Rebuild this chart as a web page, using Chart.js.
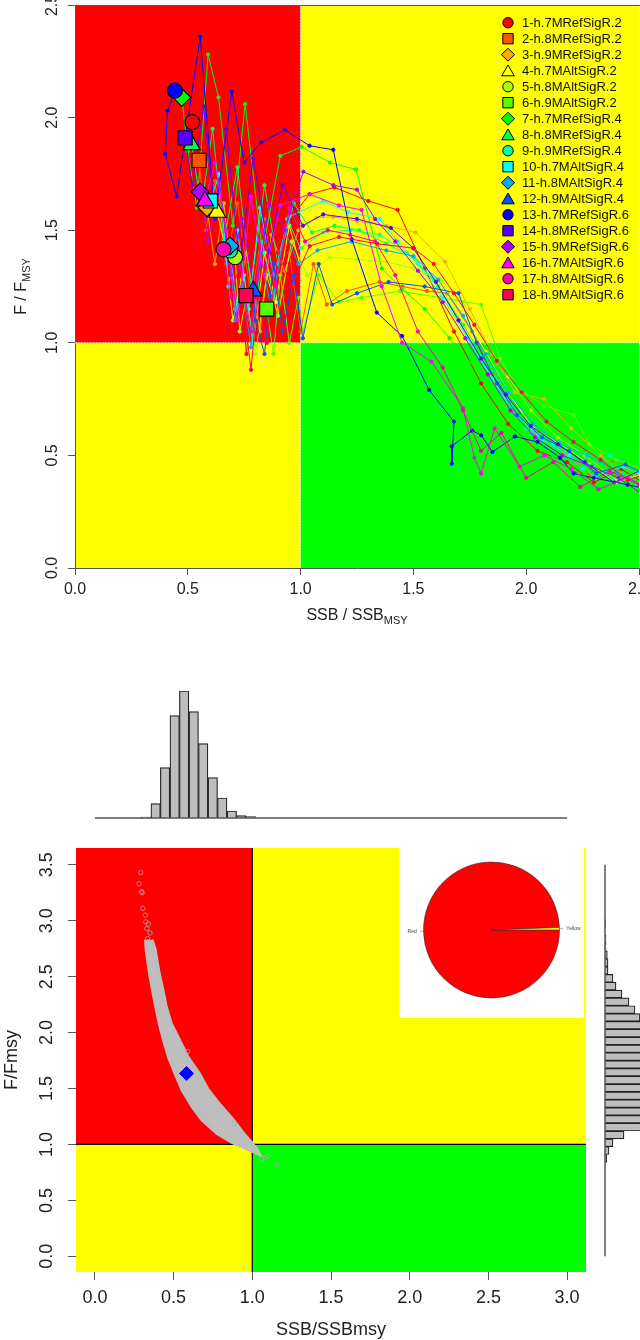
<!DOCTYPE html>
<html><head><meta charset="utf-8">
<script src="https://cdn.jsdelivr.net/npm/chart.js@4.4.1/dist/chart.umd.min.js"></script>
<style>
html,body{margin:0;padding:0;background:#fff;width:640px;height:1340px;overflow:hidden;}
.box{position:absolute;}
canvas{display:block;}
</style></head><body>
<div class="box" style="left:0;top:0;width:640px;height:640px"><canvas id="kobe" width="640" height="640"></canvas></div>
<div class="box" style="left:0;top:670px;width:640px;height:160px"><canvas id="histSSB" width="640" height="160"></canvas></div>
<div class="box" style="left:0;top:840px;width:640px;height:500px"><canvas id="scatter" width="640" height="500"></canvas></div>
<div class="box" style="left:590px;top:840px;width:50px;height:500px"><canvas id="histF" width="50" height="500"></canvas></div>
<div class="box" style="left:399px;top:848px;width:185px;height:170px;background:#fff"><canvas id="pie" width="185" height="170"></canvas></div>
<script>
// ---------------- DATA ----------------
const seriesNames = ['1-h.7MRefSigR.2','2-h.8MRefSigR.2','3-h.9MRefSigR.2','4-h.7MAltSigR.2','5-h.8MAltSigR.2','6-h.9MAltSigR.2',
  '7-h.7MRefSigR.4','8-h.8MRefSigR.4','9-h.9MRefSigR.4','10-h.7MAltSigR.4','11-h.8MAltSigR.4','12-h.9MAltSigR.4',
  '13-h.7MRefSigR.6','14-h.8MRefSigR.6','15-h.9MRefSigR.6','16-h.7MAltSigR.6','17-h.8MAltSigR.6','18-h.9MAltSigR.6'];

const ssb01 = [2.70,2.55,2.42,2.30,2.18,2.05,1.92,1.80,1.68,1.55,1.43,1.30,1.15,1.04,0.93,0.86,0.80,0.76,0.70,0.66,0.62,0.58,0.52];
const f01   = [0.40,0.36,0.44,0.38,0.47,0.52,0.64,0.82,1.05,1.33,1.59,1.63,1.69,1.66,1.52,1.21,1.45,0.95,1.62,1.30,1.88,1.55,1.98];
const ssb02 = [2.66,2.52,2.40,2.28,2.16,2.04,1.94,1.85,1.76,1.65,1.56,1.45,1.35,1.205,1.116,1.057,1.00,0.95,0.90,0.84,0.78,0.72,0.67,0.62,0.58,0.55];
const f02   = [0.45,0.40,0.48,0.42,0.52,0.60,0.70,0.86,1.05,1.22,1.23,1.25,1.27,1.23,1.17,1.35,1.05,1.40,1.15,1.55,1.20,1.62,1.35,1.72,1.50,1.81];
const ssb03 = [2.70,2.55,2.45,2.33,2.20,2.08,1.95,1.85,1.75,1.64,1.51,1.38,1.25,1.145,1.07,0.99,0.93,0.87,0.82,0.76,0.71,0.66,0.62,0.585];
const f03   = [0.42,0.47,0.40,0.50,0.62,0.75,0.78,0.95,1.15,1.36,1.49,1.52,1.54,1.56,1.555,1.50,1.32,1.48,1.05,1.40,1.15,1.62,1.35,1.60];
const ssb04 = [2.68,2.52,2.40,2.28,2.15,2.03,1.92,1.82,1.72,1.60,1.48,1.35,1.22,1.10,1.01,0.95,0.89,0.84,0.79,0.74,0.70,0.66,0.63];
const f04   = [0.36,0.42,0.38,0.46,0.55,0.62,0.78,0.96,1.12,1.30,1.40,1.45,1.47,1.43,1.30,1.52,1.18,1.40,1.00,1.28,1.10,1.45,1.58];
const ssb05 = [2.66,2.52,2.40,2.26,2.14,2.02,1.92,1.82,1.72,1.62,1.50,1.38,1.25,1.13,1.03,0.96,0.90,0.85,0.80,0.76,0.73,0.71];
const f05   = [0.38,0.44,0.39,0.50,0.58,0.70,0.85,1.00,1.18,1.28,1.33,1.36,1.37,1.38,1.30,1.45,1.12,1.30,0.95,1.20,1.05,1.38];
const ssb06 = [2.70,2.55,2.40,2.28,2.21,2.08,1.96,1.885,1.80,1.62,1.44,1.27,1.17,1.08,1.01,0.99,0.95,0.91,0.88,0.85];
const f06   = [0.35,0.43,0.48,0.55,0.68,0.72,0.80,0.93,1.17,1.20,1.23,1.20,1.18,1.30,1.05,1.20,1.00,1.30,0.95,1.15];
const ssb07 = [2.62,2.48,2.36,2.24,2.12,2.00,1.90,1.78,1.66,1.55,1.45,1.36,1.246,1.13,1.005,0.91,0.83,0.754,0.70,0.636,0.59,0.54,0.50,0.473];
const f07   = [0.44,0.38,0.46,0.41,0.50,0.58,0.70,0.88,1.02,1.15,1.24,1.33,1.77,1.80,1.87,1.83,1.40,2.06,1.52,2.09,2.28,1.60,1.85,2.09];
const ssb08 = [2.68,2.54,2.42,2.30,2.17,2.05,1.94,1.83,1.72,1.61,1.50,1.38,1.26,1.15,1.05,0.97,0.90,0.84,0.78,0.72,0.66,0.61,0.56,0.517];
const f08   = [0.40,0.46,0.37,0.45,0.52,0.60,0.73,0.90,1.08,1.25,1.38,1.44,1.50,1.52,1.49,1.62,1.35,1.70,1.25,1.78,1.45,1.95,1.60,1.88];
const ssb09 = [2.64,2.50,2.37,2.25,2.12,2.00,1.90,1.80,1.70,1.59,1.47,1.35,1.22,1.10,1.00,0.94,0.88,0.83,0.79,0.75,0.72,0.687];
const f09   = [0.37,0.43,0.50,0.44,0.55,0.62,0.76,0.92,1.10,1.28,1.40,1.48,1.50,1.49,1.42,1.55,1.20,1.45,1.00,1.30,1.15,1.41];
const ssb10 = [2.70,2.56,2.43,2.31,2.19,2.07,1.96,1.85,1.74,1.63,1.52,1.43,1.35,1.21,1.10,0.95,0.88,0.82,0.77,0.72,0.68,0.64,0.60];
const f10   = [0.33,0.39,0.45,0.40,0.50,0.57,0.68,0.84,1.02,1.20,1.35,1.45,1.55,1.58,1.63,1.56,1.30,1.60,1.15,1.50,1.25,1.75,1.63];
const ssb11 = [2.66,2.52,2.40,2.27,2.15,2.03,1.92,1.82,1.72,1.61,1.50,1.38,1.227,1.075,0.99,0.93,0.87,0.82,0.78,0.74,0.71,0.687];
const f11   = [0.41,0.36,0.43,0.50,0.55,0.64,0.78,0.95,1.12,1.28,1.385,1.41,1.45,1.41,1.35,1.50,1.15,1.40,0.98,1.25,1.10,1.43];
const ssb12 = [2.70,2.56,2.44,2.31,2.19,2.07,1.96,1.87,1.78,1.70,1.55,1.39,1.25,1.14,1.08,1.01,0.97,0.92,0.88,0.84,0.80,0.79];
const f12   = [0.34,0.40,0.46,0.42,0.52,0.58,0.68,0.82,1.00,1.22,1.25,1.27,1.22,1.17,1.35,1.02,1.30,1.05,1.35,0.95,1.10,1.23];
const ssb13 = [2.62,2.45,2.30,2.21,2.15,2.05,1.95,1.85,1.80,1.76,1.67,1.67,1.68,1.57,1.45,1.338,1.227,1.145,1.04,0.93,0.825,0.75,0.695,0.62,0.555,0.45,0.40,0.41,0.443];
const f13   = [0.33,0.37,0.40,0.42,0.49,0.56,0.584,0.515,0.59,0.61,0.54,0.463,0.65,0.79,1.03,1.134,1.46,1.857,1.875,1.945,1.89,1.80,2.115,1.55,2.36,1.65,1.84,2.03,2.12];
const ssb14 = [2.66,2.52,2.39,2.26,2.14,2.02,1.91,1.80,1.70,1.60,1.50,1.40,1.25,1.10,1.01,0.92,0.86,0.79,0.73,0.67,0.62,0.57,0.52,0.488];
const f14   = [0.38,0.44,0.38,0.47,0.55,0.63,0.77,0.93,1.10,1.27,1.42,1.51,1.55,1.57,1.52,1.70,1.40,1.82,1.35,1.95,1.55,2.05,1.70,1.91];
const ssb15 = [2.68,2.54,2.41,2.29,2.16,2.04,1.93,1.83,1.73,1.63,1.52,1.42,1.33,1.25,1.145,1.012,0.93,0.86,0.80,0.74,0.69,0.64,0.59,0.554];
const f15   = [0.36,0.31,0.40,0.45,0.50,0.58,0.70,0.86,1.02,1.18,1.32,1.45,1.55,1.68,1.70,1.76,1.50,1.62,1.20,1.55,1.30,1.72,1.45,1.67];
const ssb16 = [2.60,2.45,2.32,2.20,2.08,1.97,1.86,1.80,1.77,1.72,1.58,1.45,1.36,1.27,1.17,1.04,0.91,0.84,0.78,0.72,0.67,0.62,0.576];
const f16   = [0.33,0.40,0.35,0.44,0.50,0.45,0.62,0.42,0.49,0.71,0.917,1.00,1.25,1.59,1.61,1.66,1.61,1.30,1.65,1.10,1.50,1.80,1.63];
const ssb17 = [2.64,2.50,2.37,2.24,2.12,2.00,1.89,1.80,1.72,1.63,1.52,1.42,1.33,1.22,1.12,1.02,0.95,0.89,0.83,0.78,0.73,0.69,0.658];
const f17   = [0.30,0.37,0.43,0.36,0.47,0.40,0.60,0.52,0.70,0.89,1.05,1.30,1.45,1.48,1.50,1.45,1.60,1.25,1.50,1.05,1.35,1.20,1.415];
const ssb18 = [2.70,2.57,2.45,2.33,2.21,2.09,1.98,1.87,1.77,1.68,1.59,1.50,1.34,1.17,1.04,0.96,0.90,0.85,0.81,0.78,0.76,0.758];
const f18   = [0.37,0.43,0.39,0.48,0.56,0.65,0.78,0.92,1.08,1.22,1.35,1.42,1.44,1.47,1.43,1.25,1.40,1.00,1.20,0.88,1.05,1.21];

const ssbTraj = [ssb01,ssb02,ssb03,ssb04,ssb05,ssb06,ssb07,ssb08,ssb09,ssb10,ssb11,ssb12,ssb13,ssb14,ssb15,ssb16,ssb17,ssb18];
const fTraj   = [f01,f02,f03,f04,f05,f06,f07,f08,f09,f10,f11,f12,f13,f14,f15,f16,f17,f18];

// marginal histogram of SSB/SSBmsy (bin mid-points, counts)
const ssbBinMid = [0.325,0.386,0.446,0.507,0.567,0.628,0.688,0.749,0.809,0.870,0.930,0.991];
const ssbCounts = [3,43,151,307,381,319,223,121,60,21,7,4];
// marginal histogram of F/Fmsy
const fBinMid = [0.875,0.945,1.015,1.085,1.155,1.225,1.295,1.365,1.435,1.505,1.575,1.645,1.715,1.785,1.855,1.925,1.995,2.065,2.135,2.205,2.275,2.345,2.415,2.485,2.555,2.625,2.695,2.765,2.835,2.905,2.975];
const fCounts = [5,12,24,57,120,150,180,200,215,225,230,225,215,200,180,160,140,120,105,90,72,51,33,24,9,9,7,3,3,0,2];

// outline of the dense cloud of bootstrap points (left edge downwards, then right edge upwards)
const bandSSB = [0.325,0.329,0.35,0.369,0.39,0.412,0.44,0.471,0.514,0.556,0.62,0.684,0.78,0.875,0.96,1.04,1.02,0.99,0.94,0.875,0.80,0.716,0.662,0.588,0.535,0.482,0.45,0.429,0.405,0.38,0.36];
const bandF   = [2.83,2.74,2.53,2.38,2.23,2.08,1.93,1.78,1.63,1.49,1.34,1.22,1.10,1.02,0.97,0.92,0.97,1.02,1.10,1.22,1.34,1.49,1.63,1.78,1.93,2.08,2.23,2.38,2.53,2.74,2.83];
// scattered single points outside the dense cloud
const outSSB = [0.291,0.28,0.297,0.30,0.305,0.32,0.323,0.33,0.35,0.335,0.34,0.885,1.06,1.10,1.155,1.08,0.588];
const outF   = [3.43,3.33,3.26,3.25,3.11,3.05,2.99,2.93,2.89,2.84,2.97,1.19,0.87,0.90,0.82,0.88,1.83];
// current status
const curSSB = [0.582];
const curF = [1.635];

// pie of stock status
const zoneLabels = ['Red','Yellow'];
const zoneShares = [99.4,0.6];

// ---------------- STYLE ----------------
const seriesColors = ['#FF0000','#FF5500','#FFAA00','#FFFF00','#AAFF00','#55FF00','#00FF00','#00FF55','#00FFAA',
  '#00FFFF','#00AAFF','#0055FF','#0000FF','#5500FF','#AA00FF','#FF00FF','#FF00AA','#FF0055'];
const shapeCycle = ['circle','rect','rectRot','triangle'];
const markerR = {circle:7.5, rect:10, rectRot:9, triangle:10};
const legendR = {circle:5.2, rect:7.3, rectRot:6.5, triangle:7.2};
const RED='#FF0000', YEL='#FFFF00', GRN='#00FF00';
const FONT = "'Liberation Sans', Arial, Helvetica, sans-serif";
Chart.defaults.font.family = FONT;
Chart.defaults.color = '#222';

function baseOpts(padding){
  return {responsive:false, animation:false, events:[], devicePixelRatio:1,
    layout:{autoPadding:false, padding}, plugins:{legend:{display:false}, tooltip:{enabled:false}}};
}
function drawShape(ctx, style, x, y, r, fill){
  ctx.beginPath();
  if (style==='circle') ctx.arc(x,y,r,0,Math.PI*2);
  else if (style==='rect'){ const s=r*Math.SQRT1_2; ctx.rect(x-s,y-s,2*s,2*s); }
  else if (style==='rectRot'){ ctx.moveTo(x-r,y); ctx.lineTo(x,y-r); ctx.lineTo(x+r,y); ctx.lineTo(x,y+r); ctx.closePath(); }
  else { const a=2*Math.PI/3; ctx.moveTo(x,y-r); ctx.lineTo(x+r*Math.sin(a), y-r*Math.cos(a)); ctx.lineTo(x+r*Math.sin(2*a), y-r*Math.cos(2*a)); ctx.closePath(); }
  ctx.fillStyle=fill; ctx.fill(); ctx.stroke();
}
function fillZones(chart){
  const {ctx, chartArea:a, scales:{x,y}} = chart;
  const x1=x.getPixelForValue(1), y1=y.getPixelForValue(1);
  ctx.save();
  ctx.fillStyle=RED; ctx.fillRect(a.left,a.top,x1-a.left,y1-a.top);
  ctx.fillStyle=YEL; ctx.fillRect(x1,a.top,a.right-x1,y1-a.top); ctx.fillRect(a.left,y1,x1-a.left,a.bottom-y1);
  ctx.fillStyle=GRN; ctx.fillRect(x1,y1,a.right-x1,a.bottom-y1);
  ctx.restore();
}
function rotatedYLabels(chart, cx, size){
  const {ctx, scales:{y}} = chart;
  ctx.save(); ctx.font = size+'px '+FONT; ctx.fillStyle='#222'; ctx.textAlign='center'; ctx.textBaseline='middle';
  y.ticks.forEach(t=>{ const py=y.getPixelForValue(t.value); ctx.save(); ctx.translate(cx,py); ctx.rotate(-Math.PI/2); ctx.fillText(t.value.toFixed(1),0,0); ctx.restore(); });
  ctx.restore();
}
function noSidePad(s){ s.paddingLeft=0; s.paddingRight=0; s.paddingTop=0; s.paddingBottom=0; }

// ---------------- TOP: Kobe trajectories ----------------
const kobeSets = [];
ssbTraj.forEach((xs,i)=>{
  const c=seriesColors[i];
  kobeSets.push({data: xs.map((x,j)=>({x, y:fTraj[i][j]})), showLine:true, borderColor:c, borderWidth:1,
    pointRadius:1.7, pointBorderWidth:0.8, pointBorderColor:c, pointBackgroundColor:c, backgroundColor:c, order:100-i});
});
ssbTraj.forEach((xs,i)=>{
  const n=xs.length-1, st=shapeCycle[i%4];
  kobeSets.push({data:[{x:xs[n], y:fTraj[i][n]}], showLine:false, pointStyle:st, pointRadius:markerR[st],
    pointBackgroundColor:seriesColors[i], pointBorderColor:'#000', pointBorderWidth:1.1, order:-1-i});
});
new Chart(document.getElementById('kobe'), {
  type:'scatter', data:{datasets:kobeSets},
  options: Object.assign(baseOpts({top:5,right:1,left:0,bottom:0}), {
    scales:{
      x:{type:'linear', min:0, max:2.5,
        ticks:{stepSize:0.5, includeBounds:false, autoSkip:false, maxRotation:0, font:{size:16}, padding:5, color:'#222', callback:v=>Number(v).toFixed(1)},
        grid:{display:true, drawOnChartArea:false, drawTicks:true, tickLength:7, color:'#555'},
        border:{display:true, color:'#555'}, afterFit:s=>{s.height=72; noSidePad(s);}},
      y:{type:'linear', min:0, max:2.5, ticks:{display:false, stepSize:0.5, includeBounds:false},
        grid:{display:true, drawOnChartArea:false, drawTicks:true, tickLength:7, color:'#555'},
        border:{display:true, color:'#555'}, afterFit:s=>{s.width=75; noSidePad(s);}}
    }}),
  plugins:[{id:'kobeDeco',
    beforeDraw(chart){ fillZones(chart); },
    beforeDatasetsDraw(chart){
      const {ctx, chartArea:a, scales:{x,y}} = chart;
      const x1=x.getPixelForValue(1), y1=y.getPixelForValue(1);
      ctx.save(); ctx.strokeStyle='#E6E6E6'; ctx.lineWidth=1; ctx.setLineDash([1.5,1.5]);
      ctx.beginPath(); ctx.moveTo(x1,a.top); ctx.lineTo(x1,a.bottom); ctx.moveTo(a.left,y1); ctx.lineTo(a.right,y1); ctx.stroke();
      ctx.setLineDash([]); ctx.strokeStyle='#555'; ctx.beginPath(); ctx.moveTo(a.left,a.top+0.5); ctx.lineTo(a.right+2,a.top+0.5); ctx.stroke();
      ctx.restore();
    },
    afterDraw(chart){
      const {ctx, chartArea:a} = chart;
      rotatedYLabels(chart, 53, 16);
      // legend
      ctx.save(); ctx.lineWidth=1; ctx.strokeStyle='#000';
      seriesNames.forEach((nm,i)=>{
        const yy=22.7+i*16.0, st=shapeCycle[i%4];
        drawShape(ctx, st, 508, yy + (st==='triangle'?1.5:0), legendR[st], seriesColors[i]);
        ctx.fillStyle='#111'; ctx.font='13px '+FONT; ctx.textAlign='left'; ctx.textBaseline='middle';
        ctx.fillText(nm, 522, yy+0.5);
      });
      // axis titles
      const cx=(a.left+a.right)/2;
      ctx.fillStyle='#222'; ctx.textBaseline='alphabetic'; ctx.textAlign='left';
      const mainF='16px '+FONT, subF='11px '+FONT;
      ctx.font=mainF; const w1=ctx.measureText('SSB / SSB').width; ctx.font=subF; const w2=ctx.measureText('MSY').width;
      let sx=cx-(w1+w2)/2;
      ctx.font=mainF; ctx.fillText('SSB / SSB', sx, 620); ctx.font=subF; ctx.fillText('MSY', sx+w1, 624);
      ctx.save(); ctx.translate(26,(a.top+a.bottom)/2); ctx.rotate(-Math.PI/2);
      ctx.font=mainF; const v1=ctx.measureText('F / F').width; ctx.font=subF; const v2=ctx.measureText('MSY').width;
      ctx.font=mainF; ctx.fillText('F / F', -(v1+v2)/2, 0); ctx.font=subF; ctx.fillText('MSY', -(v1+v2)/2+v1, 4);
      ctx.restore();
      ctx.restore();
    }}]
});

// ---------------- SSB marginal histogram ----------------
new Chart(document.getElementById('histSSB'), {
  type:'bar',
  data:{datasets:[{data: ssbBinMid.map((x,i)=>({x, y:ssbCounts[i]})), backgroundColor:'#BEBEBE', borderColor:'#222', borderWidth:1.2,
    barPercentage:1, categoryPercentage:1}]},
  options: Object.assign(baseOpts({top:21,bottom:12,left:76,right:54}), {
    scales:{ x:{type:'linear', min:-0.12, max:3.12, offset:false, display:false},
             y:{type:'linear', min:0, max:381, display:false} }}),
  plugins:[{id:'base', afterDraw(chart){
    const {ctx, scales:{x,y}} = chart; const py=y.getPixelForValue(0);
    ctx.save(); ctx.strokeStyle='#555'; ctx.lineWidth=1.5; ctx.beginPath();
    ctx.moveTo(x.getPixelForValue(0),py); ctx.lineTo(x.getPixelForValue(3),py); ctx.stroke(); ctx.restore();
  }}]
});

// ---------------- Bottom scatter ----------------
new Chart(document.getElementById('scatter'), {
  type:'scatter',
  data:{datasets:[
    {data: bandSSB.map((x,i)=>({x, y:bandF[i]})), showLine:true, fill:'shape', backgroundColor:'#BEBEBE', borderColor:'#BDBDBD', borderWidth:4, pointRadius:0, tension:0, order:3},
    {data: outSSB.map((x,i)=>({x, y:outF[i]})), showLine:false, pointRadius:2.2, pointBorderWidth:0.8, pointBorderColor:'#A8A8A8', pointBackgroundColor:'rgba(0,0,0,0)', order:2},
    {data: curSSB.map((x,i)=>({x, y:curF[i]})), showLine:false, pointStyle:'rectRot', pointRadius:7, pointBackgroundColor:'#0000FF', pointBorderColor:'#0000FF', order:1}
  ]},
  options: Object.assign(baseOpts({top:8,right:54,left:0,bottom:0}), {
    scales:{
      x:{type:'linear', min:-0.12, max:3.12,
        ticks:{stepSize:0.5, includeBounds:false, autoSkip:false, maxRotation:0, font:{size:18}, padding:7, color:'#222', callback:v=>Number(v).toFixed(1)},
        grid:{display:true, drawOnChartArea:false, drawTicks:true, tickLength:8, color:'#555'},
        border:{display:false}, afterFit:s=>{s.height=68; noSidePad(s);}},
      y:{type:'linear', min:-0.14, max:3.65, ticks:{display:false, stepSize:0.5, includeBounds:false},
        grid:{display:true, drawOnChartArea:false, drawTicks:true, tickLength:8, color:'#555'},
        border:{display:false}, afterFit:s=>{s.width=76; noSidePad(s);}}
    }}),
  plugins:[{id:'scDeco',
    beforeDraw(chart){ fillZones(chart); },
    beforeDatasetsDraw(chart){
      const {ctx, chartArea:a, scales:{x,y}} = chart;
      const x1=x.getPixelForValue(1), y1=y.getPixelForValue(1);
      ctx.save(); ctx.strokeStyle='#000'; ctx.lineWidth=1.2;
      ctx.beginPath(); ctx.moveTo(x1,a.top); ctx.lineTo(x1,a.bottom); ctx.moveTo(a.left,y1); ctx.lineTo(a.right,y1); ctx.stroke();
      ctx.restore();
    },
    afterDraw(chart){
      const {ctx, chartArea:a} = chart;
      rotatedYLabels(chart, 47, 18);
      ctx.save(); ctx.fillStyle='#222'; ctx.font='18px '+FONT; ctx.textAlign='center'; ctx.textBaseline='alphabetic';
      ctx.fillText('SSB/SSBmsy', (a.left+a.right)/2, 495);
      ctx.translate(17,(a.top+a.bottom)/2); ctx.rotate(-Math.PI/2); ctx.fillText('F/Fmsy',0,0);
      ctx.restore();
    }}]
});

// ---------------- F marginal histogram ----------------
new Chart(document.getElementById('histF'), {
  type:'bar',
  data:{datasets:[{data: fBinMid.map((y,i)=>({x:fCounts[i], y})), backgroundColor:'#BEBEBE', borderColor:'#222', borderWidth:1.2,
    barPercentage:1, categoryPercentage:1}]},
  options: Object.assign(baseOpts({top:8,bottom:68,left:15,right:0}), {
    indexAxis:'y',
    scales:{ y:{type:'linear', min:-0.14, max:3.65, offset:false, display:false},
             x:{type:'linear', min:0, max:105, display:false} }}),
  plugins:[{id:'axisF', afterDraw(chart){
    const {ctx, scales:{x,y}} = chart; const px=x.getPixelForValue(0);
    ctx.save(); ctx.strokeStyle='#555'; ctx.lineWidth=1.5; ctx.beginPath();
    ctx.moveTo(px,y.getPixelForValue(3.5)); ctx.lineTo(px,y.getPixelForValue(0)); ctx.stroke(); ctx.restore();
  }}]
});

// ---------------- Pie ----------------
new Chart(document.getElementById('pie'), {
  type:'pie',
  data:{labels:zoneLabels, datasets:[{data:zoneShares, backgroundColor:[RED,YEL], borderColor:'#333', borderWidth:0.6, radius:68}]},
  options: Object.assign(baseOpts({top:0,bottom:6,left:0,right:0}), {rotation:90}),
  plugins:[{id:'pieLabels', afterDraw(chart){
    const ctx=chart.ctx, meta=chart.getDatasetMeta(0);
    ctx.save(); ctx.font='5px '+FONT; ctx.fillStyle='#444'; ctx.strokeStyle='#777'; ctx.lineWidth=0.6; ctx.textBaseline='middle';
    meta.data.forEach((arc,i)=>{
      const p=arc.getProps(['x','y','startAngle','endAngle','outerRadius'], true);
      const ang=(p.startAngle+p.endAngle)/2, r=p.outerRadius, c=Math.cos(ang), s=Math.sin(ang);
      ctx.beginPath(); ctx.moveTo(p.x+c*r, p.y+s*r); ctx.lineTo(p.x+c*r*1.05, p.y+s*r*1.05); ctx.stroke();
      ctx.textAlign = c>0 ? 'left' : 'right';
      ctx.fillText(zoneLabels[i], p.x+c*r*1.1, p.y+s*r*1.1);
    });
    ctx.restore();
  }}]
});
</script>
</body></html>
